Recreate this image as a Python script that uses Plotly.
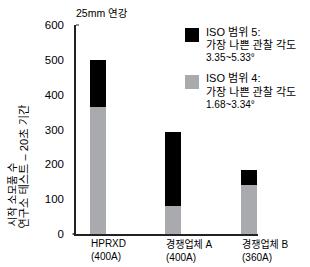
import plotly.graph_objects as go

categories = ["HPRXD", "경쟁업체 A", "경쟁업체 B"]
category_labels = ["HPRXD<br>(400A)", "경쟁업체 A<br>(400A)", "경쟁업체 B<br>(360A)"]
iso4_values = [365, 80, 142]
iso5_values = [135, 212, 43]
series_names = ["ISO 범위 5:", "ISO 범위 4:"]
series_sub = ["가장 나쁜 관찰 각도", "가장 나쁜 관찰 각도"]
series_range = ["3.35~5.33°", "1.68~3.34°"]
y_ticks = [0, 100, 200, 300, 400, 500, 600]

BLACK = "#000000"
GRAY = "#a8aaad"
FONT = "Liberation Sans, Noto Sans CJK KR, sans-serif"

W, H = 310, 267
L, R, T, B = 76, 52, 25, 33
PW, PH = W - L - R, H - T - B

def px(x):
    return (x - L) / PW

def py(y):
    return (H - B - y) / PH

fig = go.Figure()
fig.add_trace(go.Bar(x=categories, y=iso4_values, marker=dict(color=GRAY, line=dict(width=0)),
                     width=0.21, name=series_names[1], showlegend=False))
fig.add_trace(go.Bar(x=categories, y=iso5_values, marker=dict(color=BLACK, line=dict(width=0)),
                     width=0.21, name=series_names[0], showlegend=False))

annotations = []
for cat, lab in zip(categories, category_labels):
    annotations.append(dict(x=cat, xref="x", y=0, yref="paper", text=lab, showarrow=False,
                            xanchor="left", yanchor="top", align="left", xshift=-9, yshift=-2,
                            font=dict(size=10, color="#000", family=FONT)))

annotations.append(dict(x=px(74), xref="paper", y=py(12.5), yref="paper", text="25mm 연강",
                        showarrow=False, xanchor="left", yanchor="middle",
                        font=dict(size=10.5, color="#000", family=FONT)))

annotations.append(dict(x=px(11.5), xref="paper", y=0, yref="paper", text="시작 소모품 수",
                        textangle=-90, showarrow=False, xanchor="center", yanchor="bottom", yshift=5,
                        font=dict(size=10.5, color="#000", family=FONT)))
annotations.append(dict(x=px(23.5), xref="paper", y=0, yref="paper", text="연구소 테스트 – 20초 기간",
                        textangle=-90, showarrow=False, xanchor="center", yanchor="bottom", yshift=3,
                        font=dict(size=11.2, color="#000", family=FONT)))

shapes = []
legend_colors = [BLACK, GRAY]
legend_tops = [28, 75]
for i, (c, top) in enumerate(zip(legend_colors, legend_tops)):
    shapes.append(dict(type="rect", xref="paper", yref="paper", x0=px(185), x1=px(199),
                       y0=py(top + 14), y1=py(top), fillcolor=c, line=dict(width=0)))
    lines = [(series_names[i], 11), (series_sub[i], 11), (series_range[i], 10)]
    for j, (t, s) in enumerate(lines):
        annotations.append(dict(x=px(204), xref="paper", y=py(top + 3.5 + 13 * j), yref="paper",
                                text=t, showarrow=False, xanchor="left", yanchor="middle",
                                font=dict(size=s, color="#000", family=FONT)))

# small axis end marks
shapes.append(dict(type="line", xref="paper", yref="paper", x0=px(72.5), x1=0, y0=0, y1=0,
                   line=dict(color="#222", width=1.5)))
shapes.append(dict(type="line", xref="paper", yref="paper", x0=0, x1=px(79), y0=1, y1=1,
                   line=dict(color="#222", width=1)))

fig.update_layout(
    barmode="stack",
    width=W, height=H,
    margin=dict(l=L, r=R, t=T, b=B, pad=0),
    plot_bgcolor="white", paper_bgcolor="white",
    showlegend=False,
    annotations=annotations,
    shapes=shapes,
    font=dict(family=FONT, color="#000"),
    xaxis=dict(range=[-0.287, 2.119], showticklabels=False, ticks="", showgrid=False,
               showline=True, linecolor="#222", linewidth=1.5, zeroline=False, fixedrange=True),
    yaxis=dict(range=[0, 600], tickvals=y_ticks, ticktext=[str(v) for v in y_ticks],
               showgrid=False, showline=True, linecolor="#222", linewidth=1.5, zeroline=False,
               ticks="", ticklabelstandoff=8, tickfont=dict(size=11.5, color="#000", family=FONT)),
)

fig.write_html("out.html")
